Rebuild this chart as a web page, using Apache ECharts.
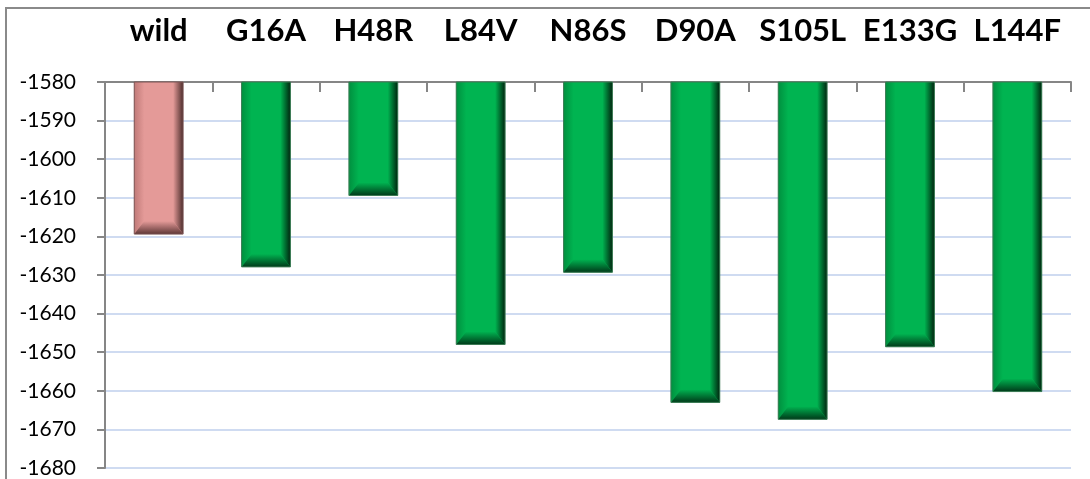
<!DOCTYPE html>
<html>
<head>
<meta charset="utf-8">
<script src="https://cdn.jsdelivr.net/npm/echarts@6/dist/echarts.min.js"></script>
<style>
html,body{margin:0;padding:0;background:#fff;}
#c{width:1090px;height:479px;}
</style>
</head>
<body>
<div id="c"></div>
<script>
const categories = ['wild', 'G16A', 'H48R', 'L84V', 'N86S', 'D90A', 'S105L', 'E133G', 'L144F'];
const energies = [-1619.4, -1627.9, -1609.4, -1648.0, -1629.3, -1663.0, -1667.4, -1648.6, -1660.2];
const yMin = -1680;
const yMax = -1580;
const yStep = 10;
const referenceName = 'wild';

const palette = {
  ref:   { main: '#e49a98', left: '#c07a78', right: '#4e2e2d', bottom: '#5e3736', edge: '#7a5555' },
  mut:   { main: '#00b451', left: '#00903f', right: '#00250f', bottom: '#003a19', edge: '#3d7a55' }
};

const chart = echarts.init(document.getElementById('c'), null, { renderer: 'canvas' });

function grad(x2, y2, c0, c1) {
  return new echarts.graphic.LinearGradient(0, 0, x2, y2, [
    { offset: 0, color: c0 }, { offset: 1, color: c1 }
  ]);
}

const option = {
  backgroundColor: '#ffffff',
  animation: false,
  graphic: [{
    type: 'rect',
    shape: { x: 6, y: 8, width: 1200, height: 700 },
    style: { fill: 'none', stroke: '#8a8a8a', lineWidth: 2 },
    z: 100
  }],
  grid: { left: 105, right: 19, top: 82, bottom: 11, containLabel: false },
  xAxis: {
    type: 'category',
    position: 'top',
    data: categories,
    boundaryGap: true,
    axisLine: { show: true, lineStyle: { color: '#868686', width: 2 } },
    axisTick: { show: true, inside: true, length: 10, alignWithLabel: false, lineStyle: { color: '#868686', width: 2 } },
    axisLabel: {
      interval: 0,
      margin: 36,
      color: '#000',
      fontFamily: 'Lato, "Open Sans", sans-serif',
      fontWeight: 'bold',
      fontSize: 31
    },
    splitLine: { show: false }
  },
  yAxis: {
    type: 'value',
    min: yMin,
    max: yMax,
    interval: yStep,
    axisLine: { show: true, lineStyle: { color: '#868686', width: 2 } },
    axisTick: { show: true, length: 8, lineStyle: { color: '#868686', width: 2 } },
    axisLabel: {
      margin: 29,
      color: '#000',
      fontFamily: 'Lato, "Open Sans", sans-serif',
      fontSize: 21,
      formatter: function (v) { return String(v); }
    },
    splitLine: { show: true, lineStyle: { color: '#bfcfec', width: 1.5 } }
  },
  series: [{
    type: 'custom',
    data: energies.map((v, i) => [i, v]),
    renderItem: function (params, api) {
      const idx = api.value(0);
      const v = api.value(1);
      const p0 = api.coord([idx, yMax]);
      const p1 = api.coord([idx, v]);
      const bw = api.size([1, 0])[0] * 0.455;
      const x0 = p0[0] - bw / 2, x1 = p0[0] + bw / 2;
      const y0 = p0[1], y1 = p1[1];
      const b = 10;
      const bb = 13;
      const c = categories[idx] === referenceName ? palette.ref : palette.mut;
      return {
        type: 'group',
        children: [
          { type: 'rect', shape: { x: x0, y: y0, width: bw, height: y1 - y0 }, style: { fill: c.main } },
          { type: 'polygon', shape: { points: [[x0, y0], [x0 + b, y0], [x0 + b, y1 - bb], [x0, y1]] },
            style: { fill: grad(1, 0, c.left, c.main) } },
          { type: 'polygon', shape: { points: [[x1, y0], [x1 - b, y0], [x1 - b, y1 - bb], [x1, y1]] },
            style: { fill: grad(1, 0, c.main, c.right) } },
          { type: 'polygon', shape: { points: [[x0, y1], [x0 + b, y1 - bb], [x1 - b, y1 - bb], [x1, y1]] },
            style: { fill: grad(0, 1, c.main, c.bottom) } },
          { type: 'rect', shape: { x: x0, y: y0, width: bw, height: y1 - y0 },
            style: { fill: 'none', stroke: c.edge, lineWidth: 1 } }
        ]
      };
    },
    z: 5
  }]
};
chart.setOption(option);
</script>
</body>
</html>
